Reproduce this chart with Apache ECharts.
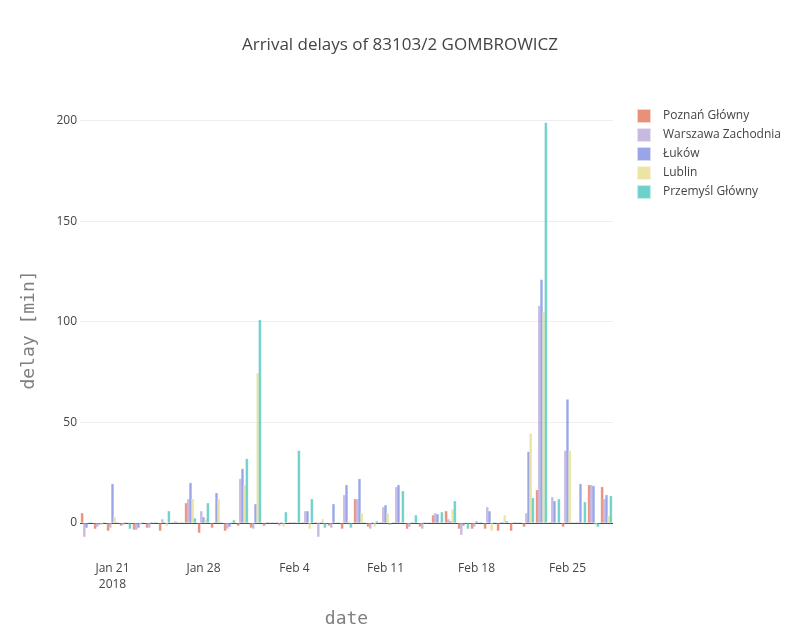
<!DOCTYPE html>
<html>
<head>
<meta charset="utf-8">
<script src="https://cdn.jsdelivr.net/npm/echarts@6/dist/echarts.min.js"></script>
<style>html,body{margin:0;padding:0;background:#fff}#c{width:800px;height:640px}</style>
</head>
<body>
<div id="c"></div>
<script>
const dates = ['2018-01-19','2018-01-20','2018-01-21','2018-01-22','2018-01-23','2018-01-24','2018-01-25','2018-01-26','2018-01-27','2018-01-28',
'2018-01-29','2018-01-30','2018-01-31','2018-02-01','2018-02-02','2018-02-03','2018-02-04','2018-02-05','2018-02-06','2018-02-07',
'2018-02-08','2018-02-09','2018-02-10','2018-02-11','2018-02-12','2018-02-13','2018-02-14','2018-02-15','2018-02-16','2018-02-17',
'2018-02-18','2018-02-19','2018-02-20','2018-02-21','2018-02-22','2018-02-23','2018-02-24','2018-02-25','2018-02-26','2018-02-27','2018-02-28'];
const tickDates = ['2018-01-21','2018-01-28','2018-02-04','2018-02-11','2018-02-18','2018-02-25'];
const yTicks = [0, 50, 100, 150, 200];
const seriesNames = ['Poznań Główny','Warszawa Zachodnia','Łuków','Lublin','Przemyśl Główny'];
const poznan   = [5,-3,-4,-1.5,-3.5,-2.5,-4,0,10,-5,-2.5,-4,-1.5,-2.5,-1.5,0,0,0,0,-1.5,-3,12,-2,0,0,-3,-2,4,6,-3,-3,-3,-4,-4,-2,16.5,0,-2,0,19,18];
const warszawa = [-7,-2,-2.5,-1,-3.5,-2.5,2,1,12,6,0,-3,22,-3,0,-1.5,0,6,-7,-2.5,14,12,-3,8,18,-2,-3,5,2,-6,-2,8,0,0,5,108,13,36,0,19,12];
const lukow    = [-2.5,-1,19.5,0,-2.5,0,0,0,20,3,15,-2,27,9.5,0,0,0,6,0,9.5,19,22,0,9,19,0,0,4.5,1,-1.5,1,6,0,0,35.5,121,11,61.5,19.5,18.5,14];
const lublin   = [0,-1,3,0,-1,0,-1.5,0,12,2,12,0,19,74.5,0,-2,0,-3,2,0,1,5,-2,5,0,0,0,0,7,0,0,-4,4,0,44.5,105,0,36,0,-1,3.5];
const przemysl = [0,0,0,-3,0,0,6,0,2.5,10,0,1.5,32,101,0,5.5,36,12,-2.5,0,-2.5,0,1,-1,16,4,0,5.5,11,-3,0,0,1,0,12.5,199,12,0,10.5,-2,13.5];
const seriesData = [poznan, warszawa, lukow, lublin, przemysl];
const colors = ['#d9461f','#a38acd','#536bd9','#dfd267','#0db4a8'];

const monthNames = ['Jan','Feb','Mar','Apr','May','Jun','Jul','Aug','Sep','Oct','Nov','Dec'];
function fmtDate(s){
  const p = s.split('-');
  let t = monthNames[parseInt(p[1],10)-1] + ' ' + parseInt(p[2],10);
  if (s === tickDates[0]) t += '\n' + p[0];
  return t;
}

const chart = echarts.init(document.getElementById('c'), null, {renderer:'canvas'});
const font = '"Open Sans", sans-serif';
chart.setOption({
  animation: false,
  backgroundColor: '#fff',
  title: {
    text: 'Arrival delays of 83103/2 GOMBROWICZ',
    left: 'center', top: 32,
    textStyle: {fontFamily: font, fontSize: 17, fontWeight: 'normal', color: '#444'}
  },
  legend: {
    orient: 'vertical', left: 631, top: 103,
    itemWidth: 14, itemHeight: 14, itemGap: 3,
    icon: 'rect',
    textStyle: {fontFamily: font, fontSize: 12, color: '#444', padding: [0,0,0,7]},
    data: seriesNames
  },
  grid: {left: 80, right: 187, top: 100, bottom: 80, containLabel: false},
  xAxis: {
    type: 'category',
    data: dates,
    boundaryGap: true,
    name: 'date', nameLocation: 'middle', nameGap: 50,
    nameTextStyle: {fontFamily: '"DejaVu Sans Mono", monospace', fontSize: 18, color: '#7f7f7f'},
    axisLine: {show: false, onZero: false},
    axisTick: {show: false},
    axisLabel: {
      interval: function(i, v){ return tickDates.indexOf(v) >= 0; },
      formatter: fmtDate,
      fontFamily: font, fontSize: 12, color: '#444', margin: 1, lineHeight: 16
    },
    splitLine: {show: false}
  },
  yAxis: {
    type: 'value',
    min: -18.4, max: 210.2,
    name: 'delay [min]', nameLocation: 'middle', nameGap: 42,
    nameTextStyle: {fontFamily: '"DejaVu Sans Mono", monospace', fontSize: 18, color: '#7f7f7f'},
    axisLine: {show: false},
    axisTick: {show: false, customValues: yTicks},
    axisLabel: {customValues: yTicks, fontFamily: font, fontSize: 12, color: '#444', margin: 3},
    splitLine: {show: true, lineStyle: {color: ['#444','#eee','#eee','#eee','#eee'], width: 1}}
  },
  series: seriesNames.map(function(n, k){
    return {
      name: n, type: 'bar',
      data: seriesData[k],
      barWidth: 3, barGap: '-27%',
      barMinHeight: 1,
      itemStyle: {color: colors[k], opacity: 0.6, borderColor: '#fff', borderWidth: 0.4}
    };
  })
});
</script>
</body>
</html>
